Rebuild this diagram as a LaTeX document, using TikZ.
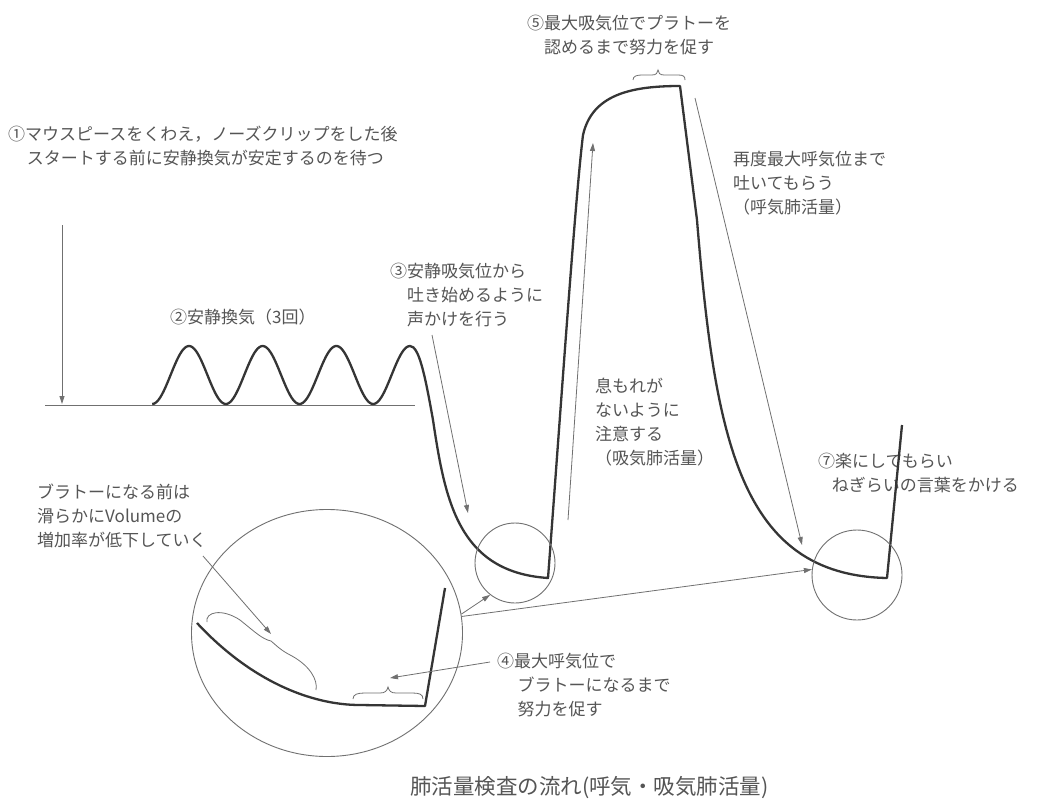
\documentclass[tikz,border=0pt]{standalone}
\usepackage{fontspec}
\newfontfamily\jp{Noto Sans CJK JP}
\usetikzlibrary{arrows.meta,shapes.geometric}
\definecolor{txt}{HTML}{555555}
\definecolor{ink}{HTML}{353535}
\definecolor{thinc}{HTML}{707070}
\begin{document}
\begin{tikzpicture}[x=1pt,y=-1pt,
  curve/.style={line width=2.3pt, draw=ink, line join=round},
  thinline/.style={line width=0.8pt, draw=thinc},
  arr/.style={thinline, -{Triangle[length=8pt,width=5pt]}},
  lab/.style={font=\jp\fontsize{17}{24}\selectfont, text=txt, align=left, anchor=north west, inner sep=0pt},
  ring/.style={circle, draw=thinc, line width=0.9pt, inner sep=0pt}]
\useasboundingbox[fill=white] (0,0) rectangle (1059,805);

% labels
\node[lab] (t1) at (8,126) {①マウスピースをくわえ，ノーズクリップをした後\\\hspace{1.1em}スタートする前に安静換気が安定するのを待つ};
\node[lab] (t2) at (170,309) {②安静換気（3回）};
\node[lab] (t3) at (390,263) {③安静吸気位から\\\hspace{1em}吐き始めるように\\\hspace{1em}声かけを行う};
\node[lab] (t5) at (527,15) {⑤最大吸気位でプラトーを\\\hspace{1em}認めるまで努力を促す};
\node[lab] (t6) at (733,151) {再度最大呼気位まで\\吐いてもらう\\（呼気肺活量）};
\node[lab] (t7) at (595,378) {息もれが\\ないように\\注意する\\（吸気肺活量）};
\node[lab] (t8) at (818,453) {⑦楽にしてもらい\\\hspace{0.8em}ねぎらいの言葉をかける};
\node[lab] (t9) at (37,484) {ブラトーになる前は\\滑らかにVolumeの\\増加率が低下していく};
\node[lab] (t4) at (497,653) {④最大呼気位で\\\hspace{1.2em}ブラトーになるまで\\\hspace{1.2em}努力を促す};
\node[font=\jp\fontsize{21.5}{24}\selectfont, text=txt, anchor=west, inner sep=0pt] (cap) at (410,788) {肺活量検査の流れ(呼気・吸気肺活量)};

% baseline
\draw[thinline, line width=1pt] (45,405) -- (415,405);

% main spirogram
\draw[curve] plot[domain=152.17:410, samples=160, smooth] (\x, {375 - 29*cos((\x-189)/73.667*360)})
  .. controls (419,346) and (425,375) .. (433,420)
  .. controls (445,500) and (458,572) .. (548,578)
  .. controls (560,420) and (575,200) .. (583,135)
  .. controls (592,95) and (630,86) .. (680,86)
  -- (697,220)
  .. controls (715,440) and (740,575) .. (887,578)
  -- (902,425);

% circles
\node[ring, minimum size=80pt] (c1) at (515,563) {};
\node[ring, minimum size=90pt] (c2) at (857,575) {};
\node[ellipse, draw=thinc, line width=0.9pt, inner sep=0pt, minimum width=271pt, minimum height=247pt] (big) at (327,633) {};

% magnified curve
\draw[curve] (197,623) .. controls (250,680) and (310,705) .. (360,705) -- (425,706) -- (445,588);

% thin brace-like curve in magnifier
\draw[thinline] (207,622) .. controls (205,612) and (222,608) .. (240,620)
  .. controls (255,632) and (262,639) .. (271,641)
  .. controls (276,645) and (280,650) .. (292,656)
  .. controls (310,666) and (318,680) .. (316,690);

% bottom brace in magnifier
\draw[thinline] (353,699) .. controls (353,694) and (358,693) .. (365,693) -- (380,693)
  .. controls (385,693) and (387,691) .. (388,687)
  .. controls (389,691) and (391,693) .. (396,693) -- (412,693)
  .. controls (419,693) and (423,694) .. (423,699);

% top brace
\draw[thinline] (633,80) .. controls (633,76) and (637,75) .. (642,75) -- (652,75)
  .. controls (656,75) and (658,73) .. (658,70)
  .. controls (658,73) and (660,75) .. (664,75) -- (678,75)
  .. controls (683,75) and (685,76) .. (685,80);

% arrow end points
\coordinate (a1s) at (62,225);  \coordinate (a1e) at (62,404);
\coordinate (a3s) at (432,335); \coordinate (a3e) at (468,513);
\coordinate (aus) at (568,520); \coordinate (aue) at (593,143);
\coordinate (ads) at (695,98);  \coordinate (ade) at (802,545);
\coordinate (a9e) at (271,634); \coordinate (a9s) at (203,556);
\coordinate (a4s) at (490,662); \coordinate (a4e) at (390,678);

\draw[arr] (a1s) -- (a1e);
\draw[arr] (a3s) -- (a3e);
\draw[arr] (aus) -- (aue);
\draw[arr] (ads) -- (ade);
\draw[arr] (a9s) -- (a9e);
\draw[arr] (a4s) -- (a4e);
\draw[arr] (big.8) -- (c1.232);
\draw[arr] (big.7) -- (c2.173);
\end{tikzpicture}
\end{document}
